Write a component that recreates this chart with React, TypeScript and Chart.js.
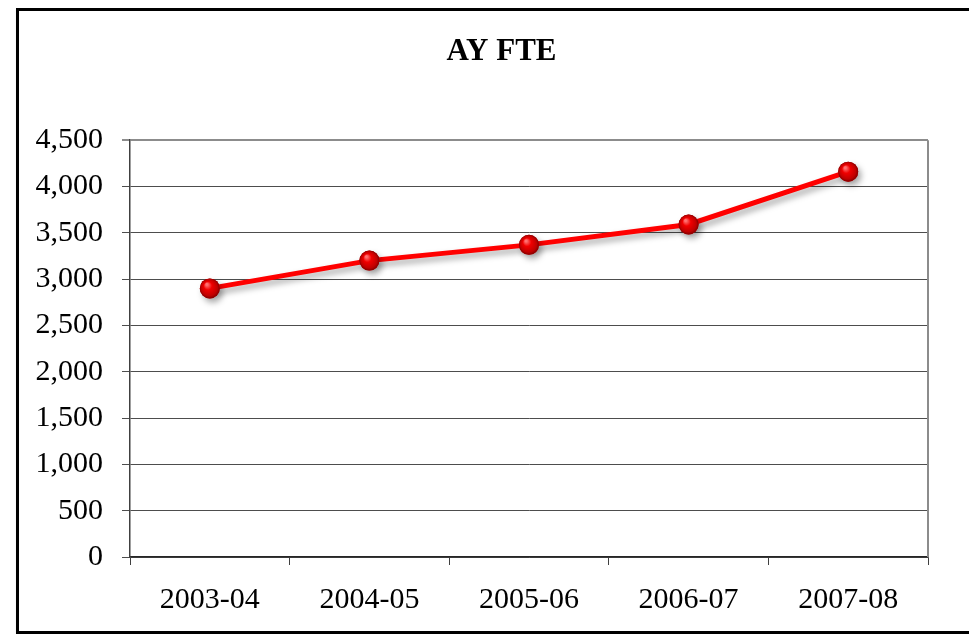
import React, { useEffect, useRef } from "react";
import { Chart, registerables } from "chart.js";

Chart.register(...registerables);

const categories = ["2003-04", "2004-05", "2005-06", "2006-07", "2007-08"];
const fteValues = [2900, 3200, 3370, 3590, 4160];
const yMin = 0;
const yMax = 4500;
const yStep = 500;
const chartTitle = "AY FTE";

const FONT = "'Liberation Serif', 'Times New Roman', serif";

const framePlugin = {
  id: "frame",
  beforeDatasetsDraw(chart: any) {
    const { ctx, chartArea } = chart;
    ctx.save();
    ctx.strokeStyle = "#8c8c8c";
    ctx.lineWidth = 2;
    ctx.beginPath();
    ctx.moveTo(chartArea.right, chartArea.top);
    ctx.lineTo(chartArea.right, chartArea.bottom);
    ctx.stroke();
    ctx.restore();
  },
};

const spherePlugin = {
  id: "spheres",
  beforeDatasetDraw(chart: any) {
    const ctx = chart.ctx;
    ctx.save();
    ctx.shadowColor = "rgba(0,0,0,0.35)";
    ctx.shadowBlur = 6;
    ctx.shadowOffsetX = 3;
    ctx.shadowOffsetY = 4;
  },
  afterDatasetDraw(chart: any, args: any) {
    const ctx = chart.ctx;
    ctx.restore();
    const meta = args.meta;
    meta.data.forEach((pt: any) => {
      const { x, y } = pt.getProps(["x", "y"], true);
      const r = 10;
      const g = ctx.createRadialGradient(x - 3, y - 4, 1, x, y, r);
      g.addColorStop(0, "#ff7070");
      g.addColorStop(0.35, "#f00000");
      g.addColorStop(0.8, "#c00000");
      g.addColorStop(1, "#800000");
      ctx.save();
      ctx.beginPath();
      ctx.arc(x, y, r, 0, Math.PI * 2);
      ctx.fillStyle = g;
      ctx.fill();
      ctx.restore();
    });
  },
};

export default function App() {
  const ref = useRef<HTMLCanvasElement | null>(null);

  useEffect(() => {
    if (!ref.current) return;
    const chart = new Chart(ref.current, {
      type: "line",
      data: {
        labels: categories,
        datasets: [
          {
            label: chartTitle,
            data: fteValues,
            borderColor: "#ff0000",
            borderWidth: 5,
            backgroundColor: "#e00000",
            pointRadius: 10,
            pointBorderWidth: 0,
            pointBackgroundColor: "#e00000",
            tension: 0,
          },
        ],
      },
      options: {
        responsive: false,
        animation: false,
        layout: { padding: { left: 14, right: 0, top: 0, bottom: 0 } },
        plugins: {
          legend: { display: false },
          tooltip: { enabled: false },
          title: {
            display: true,
            text: chartTitle,
            color: "#000",
            font: { family: FONT, size: 31, weight: "bold", lineHeight: 1.2 },
            padding: { top: 22, bottom: 70 },
          },
        },
        scales: {
          x: {
            offset: true,
            afterFit: (s: any) => {
              s.height = 74;
            },
            grid: {
              offset: true,
              drawOnChartArea: false,
              drawTicks: true,
              tickLength: 8,
              color: "#404040",
            },
            border: { display: true, color: "#262626", width: 1.5 },
            ticks: {
              color: "#000",
              padding: 17,
              maxRotation: 0,
              font: { family: FONT, size: 30 },
            },
          },
          y: {
            min: yMin,
            max: yMax,
            afterFit: (s: any) => {
              s.width = 97;
            },
            grid: {
              color: (c: any) => (c.tick && c.tick.value === yMax ? "#8c8c8c" : "#4d4d4d"),
              lineWidth: (c: any) => (c.tick && c.tick.value === yMax ? 2 : 1),
              tickLength: 8,
              drawTicks: true,
            },
            border: { display: true, color: "#404040", width: 1.5 },
            ticks: {
              stepSize: yStep,
              color: "#000",
              padding: 19,
              font: { family: FONT, size: 30 },
              callback: (v: any) => Number(v).toLocaleString("en-US"),
            },
          },
          y2: {
            position: "right",
            display: true,
            min: yMin,
            max: yMax,
            afterFit: (s: any) => {
              s.width = 42;
            },
            grid: { display: false, drawOnChartArea: false },
            border: { display: false },
            ticks: { display: false },
          },
        },
      },
      plugins: [framePlugin, spherePlugin],
    });
    return () => chart.destroy();
  }, []);

  return (
    <div
      style={{
        marginLeft: 8,
        width: 951,
        height: 620,
        border: "3px solid #000",
        boxShadow: "2px 2px 3px rgba(0,0,0,0.45)",
        background: "#fff",
      }}
    >
      <canvas ref={ref} width={951} height={620} style={{ display: "block" }} />
    </div>
  );
}
